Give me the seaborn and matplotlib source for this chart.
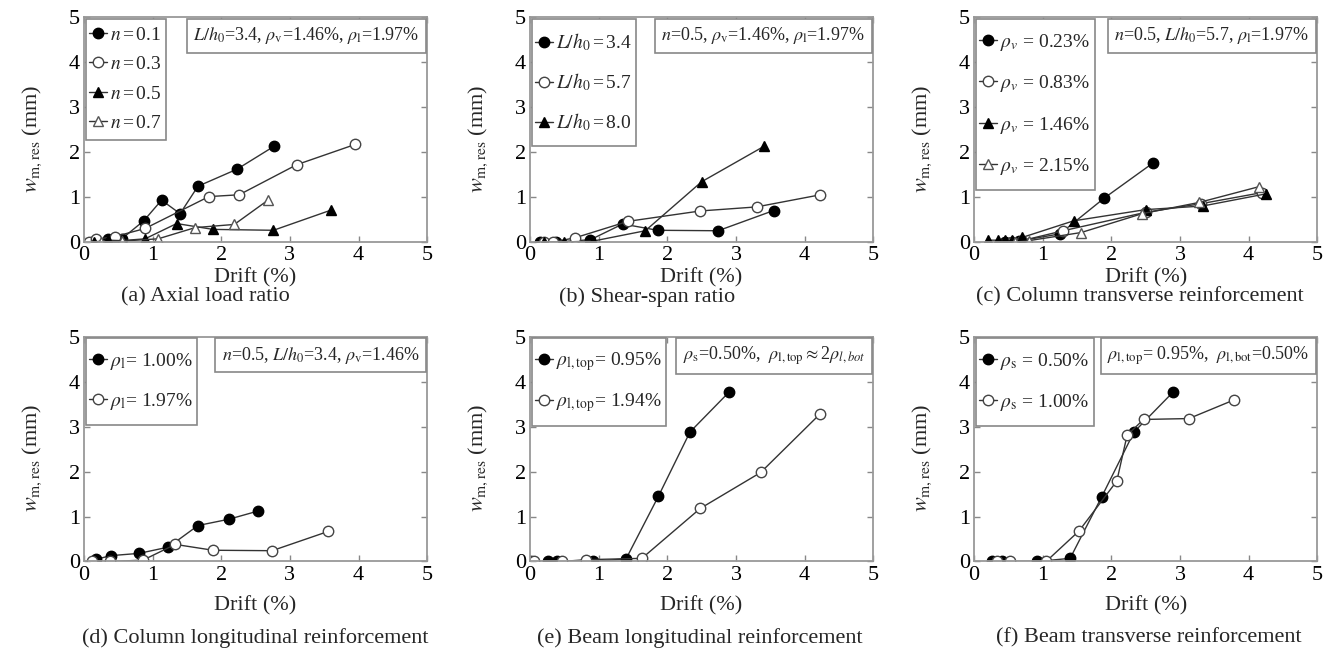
import numpy as np
import pandas as pd
import matplotlib
matplotlib.use("Agg")
import matplotlib.pyplot as plt
import matplotlib.patches as mpatches
import seaborn as sns

sns.set_theme(style="ticks")
plt.rcParams["font.family"] = ["Liberation Serif", "DejaVu Serif"]
plt.rcParams["mathtext.fontset"] = "stix"

# ---------------- data ----------------
# (a) Axial load ratio
a_n01_x = [0.12, 0.35, 0.55, 0.87, 1.13, 1.40, 1.66, 2.23, 2.77]
a_n01_y = [0.00, 0.07, 0.07, 0.47, 0.93, 0.63, 1.24, 1.62, 2.13]
a_n03_x = [0.08, 0.18, 0.45, 0.89, 1.82, 2.26, 3.10, 3.95]
a_n03_y = [0.00, 0.06, 0.12, 0.30, 1.01, 1.05, 1.72, 2.17]
a_n05_x = [0.15, 0.35, 0.55, 0.89, 1.35, 1.88, 2.76, 3.60]
a_n05_y = [0.00, 0.04, 0.03, 0.07, 0.41, 0.28, 0.26, 0.71]
a_n07_x = [0.25, 0.55, 1.08, 1.62, 2.19, 2.68]
a_n07_y = [0.00, 0.02, 0.07, 0.32, 0.39, 0.93]

# (b) Shear-span ratio
b_34_x = [0.15, 0.38, 0.88, 1.35, 1.86, 2.74, 3.55]
b_34_y = [0.00, 0.00, 0.05, 0.40, 0.26, 0.25, 0.70]
b_57_x = [0.20, 0.33, 0.65, 1.43, 2.48, 3.30, 4.23]
b_57_y = [0.00, 0.00, 0.09, 0.46, 0.69, 0.78, 1.05]
b_80_x = [0.20, 0.50, 0.92, 1.68, 2.50, 3.41]
b_80_y = [0.00, 0.00, 0.02, 0.25, 1.34, 2.13]

# (c) Column transverse reinforcement
c_023_x = [0.45, 0.55, 0.65, 1.25, 1.90, 2.60]
c_023_y = [0.00, 0.00, 0.02, 0.18, 0.98, 1.75]
c_083_x = [0.55, 0.70, 1.30, 2.50, 3.30, 4.20]
c_083_y = [0.00, 0.03, 0.25, 0.66, 0.85, 1.10]
c_146_x = [0.20, 0.35, 0.45, 0.55, 0.70, 1.45, 2.50, 3.33, 4.25]
c_146_y = [0.04, 0.04, 0.04, 0.04, 0.10, 0.47, 0.72, 0.80, 1.07]
c_215_x = [0.60, 0.80, 1.56, 2.45, 3.28, 4.15]
c_215_y = [0.00, 0.03, 0.21, 0.63, 0.88, 1.23]

# (d) Column longitudinal reinforcement
d_100_x = [0.18, 0.39, 0.80, 1.23, 1.66, 2.11, 2.53]
d_100_y = [0.05, 0.13, 0.18, 0.32, 0.80, 0.94, 1.12]
d_197_x = [0.12, 0.38, 0.86, 1.33, 1.88, 2.74, 3.56]
d_197_y = [0.00, 0.00, 0.03, 0.38, 0.25, 0.24, 0.67]

# (e) Beam longitudinal reinforcement
e_095_x = [0.26, 0.40, 0.92, 1.40, 1.87, 2.33, 2.90]
e_095_y = [0.00, 0.00, 0.00, 0.06, 1.45, 2.88, 3.77]
e_194_x = [0.02, 0.06, 0.46, 0.82, 1.63, 2.48, 3.36, 4.23]
e_194_y = [0.00, 0.00, 0.00, 0.04, 0.07, 1.18, 1.98, 3.29]

# (f) Beam transverse reinforcement
f_050_x = [0.26, 0.41, 0.92, 1.40, 1.86, 2.33, 2.90]
f_050_y = [0.00, 0.00, 0.00, 0.07, 1.44, 2.88, 3.77]
f_100_x = [0.33, 0.53, 1.05, 1.53, 2.08, 2.23, 2.47, 3.13, 3.78]
f_100_y = [0.00, 0.00, 0.00, 0.68, 1.79, 2.81, 3.16, 3.18, 3.59]

tick_vals = [0, 1, 2, 3, 4, 5]

# ---------------- styles ----------------
LINE = "#333333"
FC = dict(marker="o", markerfacecolor="black", markeredgecolor="black", markersize=7.5)
HC = dict(marker="o", markerfacecolor="white", markeredgecolor="#444444", markersize=7.5)
FT = dict(marker="^", markerfacecolor="black", markeredgecolor="black", markersize=7.5)
HT = dict(marker="^", markerfacecolor="white", markeredgecolor="#555555", markersize=7.5)

# legend layout: first-entry offset from axes top (px), entry spacing (px)
panels = [
    dict(series=[(a_n01_x, a_n01_y, FC, r"$n\,$=$\,$0.1"),
                 (a_n03_x, a_n03_y, HC, r"$n\,$=$\,$0.3"),
                 (a_n05_x, a_n05_y, FT, r"$n\,$=$\,$0.5"),
                 (a_n07_x, a_n07_y, HT, r"$n\,$=$\,$0.7")],
         param=r"$L/h_0$=3.4, $\rho_{\rm v}$=1.46%, $\rho_{\rm l}$=1.97%",
         caption="(a) Axial load ratio", first=18, step=29.5),
    dict(series=[(b_34_x, b_34_y, FC, r"$L/h_0$$\,$=$\,$3.4"),
                 (b_57_x, b_57_y, HC, r"$L/h_0$$\,$=$\,$5.7"),
                 (b_80_x, b_80_y, FT, r"$L/h_0$$\,$=$\,$8.0")],
         param=r"$n$=0.5, $\rho_{\rm v}$=1.46%, $\rho_{\rm l}$=1.97%",
         caption="(b) Shear-span ratio", first=25, step=40),
    dict(series=[(c_023_x, c_023_y, FC, r"$\rho_v$ = 0.23%"),
                 (c_083_x, c_083_y, HC, r"$\rho_v$ = 0.83%"),
                 (c_146_x, c_146_y, FT, r"$\rho_v$ = 1.46%"),
                 (c_215_x, c_215_y, HT, r"$\rho_v$ = 2.15%")],
         param=r"$n$=0.5, $L/h_0$=5.7, $\rho_{\rm l}$=1.97%",
         caption="(c) Column transverse reinforcement", first=25, step=41.5),
    dict(series=[(d_100_x, d_100_y, FC, r"$\rho_{\rm l}$= 1.00%"),
                 (d_197_x, d_197_y, HC, r"$\rho_{\rm l}$= 1.97%")],
         param=r"$n$=0.5, $L/h_0$=3.4, $\rho_{\rm v}$=1.46%",
         caption="(d) Column longitudinal reinforcement", first=25, step=40),
    dict(series=[(e_095_x, e_095_y, FC, r"$\rho_{\rm l,top}$= 0.95%"),
                 (e_194_x, e_194_y, HC, r"$\rho_{\rm l,top}$= 1.94%")],
         param=r"$\rho_{\rm s}$=0.50%,  $\rho_{\rm l,top}$$\approx$2$\rho_{l,bot}$",
         caption="(e) Beam longitudinal reinforcement", first=25, step=41),
    dict(series=[(f_050_x, f_050_y, FC, r"$\rho_{\rm s}$ = 0.50%"),
                 (f_100_x, f_100_y, HC, r"$\rho_{\rm s}$ = 1.00%")],
         param=r"$\rho_{\rm l,top}$= 0.95%,  $\rho_{\rm l,bot}$=0.50%",
         caption="(f) Beam transverse reinforcement", first=25, step=41),
]

fig = plt.figure(figsize=(13.33, 6.51), dpi=100)
lefts = [0.0630, 0.3976, 0.7307]
bottoms = [0.6283, 0.1375]
W, H = 0.2575, 0.3452
cap_x = [205, 647, 1140, 255, 700, 1149]
cap_y = [297, 297, 297, 638, 638, 638]
xlab_y = [-0.158, -0.196]
LEG_FS = 14
fs_px = LEG_FS * 100 / 72.0

axes = []
for i, p in enumerate(panels):
    r, c = divmod(i, 3)
    ax = fig.add_axes([lefts[c], bottoms[r], W, H])
    axes.append(ax)
    for xs, ys, st, lab in p["series"]:
        df = pd.DataFrame({"drift": xs, "w": ys})
        sns.lineplot(data=df, x="drift", y="w", ax=ax, sort=False, estimator=None,
                     color=LINE, lw=1.0, markeredgewidth=1.0, label=lab,
                     legend=False, **st)
    ax.set_xlim(0, 5)
    ax.set_ylim(0, 5)
    ax.set_xticks(tick_vals)
    ax.set_yticks(tick_vals)
    ax.set_xticklabels([str(t) for t in tick_vals])
    ax.set_yticklabels([str(t) for t in tick_vals])
    ax.tick_params(direction="in", length=4, width=1.0, color="#888888",
                   labelcolor="black", labelsize=16, top=True, right=True, pad=3)
    for s in ax.spines.values():
        s.set_color("#999999")
        s.set_linewidth(1.3)
    ax.set_xlabel("Drift (%)", fontsize=16)
    ax.xaxis.label.set_va("center")
    ax.xaxis.set_label_coords(0.5, xlab_y[r])
    ax.set_ylabel(r"$w_{\rm m,res}$ (mm)", fontsize=16)
    ax.yaxis.label.set_va("center")
    ax.yaxis.set_label_coords(-0.15, 0.46)

    ax.annotate(p["param"], xy=(1, 1), xycoords="axes fraction",
                xytext=(-8, -8), textcoords="offset pixels",
                ha="right", va="top", fontsize=13, zorder=6,
                bbox=dict(boxstyle="square,pad=0.35", fc="white",
                          ec="#888888", lw=1.2))

    fig.text(cap_x[i] / 1333, 1 - cap_y[i] / 651, p["caption"], fontsize=16,
             ha="center", va="center")


def make_legend(ax, ls):
    handles, labels = ax.get_legend_handles_labels()
    leg = ax.legend(handles, labels, loc="upper left", bbox_to_anchor=(0.004, 1.0),
                    borderaxespad=0.0, frameon=False, fontsize=LEG_FS,
                    handlelength=0.9, handletextpad=0.15,
                    labelspacing=ls, borderpad=0.2)
    leg.set_zorder(7)
    return leg


def text_centers(leg, renderer):
    out = []
    for t in leg.get_texts():
        bb = t.get_window_extent(renderer)
        out.append(0.5 * (bb.y0 + bb.y1))
    return out


legs = [make_legend(ax, 0.6) for ax in axes]
fig.canvas.draw()
renderer = fig.canvas.get_renderer()

# adjust label spacing to match entry spacing
for k, (ax, p) in enumerate(zip(axes, panels)):
    cs = text_centers(legs[k], renderer)
    measured = (cs[0] - cs[-1]) / (len(cs) - 1)
    ls = 0.6 + (p["step"] - measured) / fs_px
    legs[k] = make_legend(ax, max(ls, 0.0))
fig.canvas.draw()

# shift legends vertically and draw frames
for k, (ax, p) in enumerate(zip(axes, panels)):
    leg = legs[k]
    axbb = ax.get_window_extent(renderer)
    cs = text_centers(leg, renderer)
    shift = (axbb.y1 - p["first"]) - cs[0]
    leg.set_bbox_to_anchor((0.004, 1.0 + shift / axbb.height), transform=ax.transAxes)
fig.canvas.draw()

for k, (ax, p) in enumerate(zip(axes, panels)):
    leg = legs[k]
    axbb = ax.get_window_extent(renderer)
    lbb = leg.get_window_extent(renderer)
    cs = text_centers(leg, renderer)
    top = axbb.y1 - 1.5
    bottom = cs[-1] - (p["first"] - 1.5)
    inv = ax.transAxes.inverted()
    (x0, y0) = inv.transform((axbb.x0 + 2.0, bottom))
    (x1, y1) = inv.transform((lbb.x1 + 1.0, top))
    rect = mpatches.Rectangle((x0, y0), x1 - x0, y1 - y0, transform=ax.transAxes,
                              fc="white", ec="#888888", lw=1.2, zorder=6.5,
                              clip_on=False)
    ax.add_patch(rect)

fig.savefig("out.png", dpi=100)
